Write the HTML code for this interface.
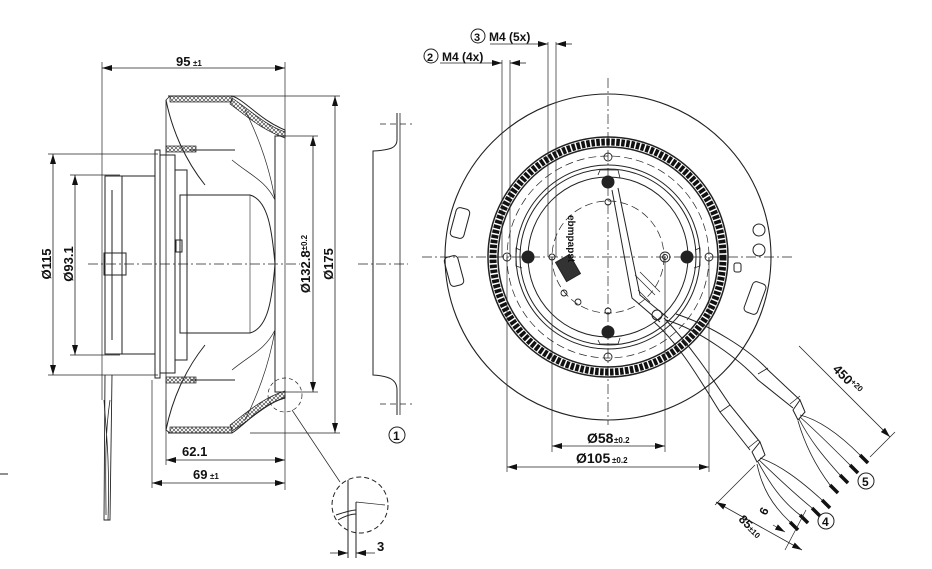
<!DOCTYPE html>
<html><head><meta charset="utf-8"><style>
html,body{margin:0;padding:0;background:#fff;}
svg{display:block;}
text{font-family:"Liberation Sans",sans-serif;font-weight:bold;fill:#111;}
</style></head><body>
<svg width="932" height="569" viewBox="0 0 932 569" xmlns="http://www.w3.org/2000/svg">
<defs>
<marker id="a" viewBox="0 0 10 6" refX="10" refY="3" markerWidth="10" markerHeight="6" orient="auto-start-reverse" markerUnits="userSpaceOnUse"><path d="M0,0L10,3L0,6z" fill="#111"/></marker>
<pattern id="h" width="4" height="4" patternUnits="userSpaceOnUse"><path d="M0,0L4,4M4,0L0,4" stroke="#333" stroke-width="0.6"/></pattern>
</defs>
<g fill="none" stroke="#222" stroke-width="1">
<line x1="88" y1="264" x2="300" y2="264" stroke-dasharray="10,3,2,3" stroke-width="0.7"/>
<line x1="102" y1="62" x2="102" y2="400" stroke-width="0.7"/>
<line x1="285" y1="62" x2="285" y2="490" stroke-width="0.7"/>
<line x1="102" y1="68" x2="285" y2="68" marker-start="url(#a)" marker-end="url(#a)" stroke-width="0.8"/>
<line x1="232" y1="96" x2="340" y2="96" stroke-width="0.7"/>
<line x1="250" y1="433" x2="340" y2="433" stroke-width="0.7"/>
<line x1="335" y1="96" x2="335" y2="433" marker-start="url(#a)" marker-end="url(#a)" stroke-width="0.8"/>
<line x1="285" y1="136" x2="318" y2="136" stroke-width="0.7"/>
<line x1="285" y1="392" x2="318" y2="392" stroke-width="0.7"/>
<line x1="313" y1="136" x2="313" y2="392" marker-start="url(#a)" marker-end="url(#a)" stroke-width="0.8"/>
<line x1="48" y1="154" x2="158" y2="154" stroke-width="0.7"/>
<line x1="48" y1="375" x2="158" y2="375" stroke-width="0.7"/>
<line x1="53" y1="154" x2="53" y2="375" marker-start="url(#a)" marker-end="url(#a)" stroke-width="0.8"/>
<line x1="70" y1="175" x2="120" y2="175" stroke-width="0.7"/>
<line x1="70" y1="355" x2="120" y2="355" stroke-width="0.7"/>
<line x1="75" y1="175" x2="75" y2="355" marker-start="url(#a)" marker-end="url(#a)" stroke-width="0.8"/>
<line x1="166" y1="400" x2="166" y2="465" stroke-width="0.7"/>
<line x1="152" y1="380" x2="152" y2="488" stroke-width="0.7"/>
<line x1="166" y1="460" x2="285" y2="460" marker-start="url(#a)" marker-end="url(#a)" stroke-width="0.8"/>
<line x1="152" y1="483" x2="285" y2="483" marker-start="url(#a)" marker-end="url(#a)" stroke-width="0.8"/>
<line x1="0" y1="474" x2="8" y2="474"/>
<rect x="105" y="176" width="50" height="178"/>
<line x1="122" y1="176" x2="122" y2="354"/>
<line x1="112" y1="190" x2="112" y2="340"/>
<rect x="104" y="253" width="22" height="22"/>
<rect x="155" y="150" width="5" height="228"/>
<rect x="160" y="155" width="15" height="218"/>
<rect x="175" y="170" width="12" height="190"/>
<path d="M105,375 L104,520 L110,520 L112,375" stroke-width="0.9"/>
<path d="M104,400 C106,430 110,460 108,520 M110,400 C104,440 106,480 106,515" stroke-width="0.8"/>
<path d="M168,96 L232,96 C245,100 260,120 285,130 L285,136 L275,136 L275,392 L285,392 L285,398 C260,405 245,425 232,433 L168,433"/>
<rect x="170" y="96" width="62" height="6" fill="url(#h)" stroke-width="0.7"/>
<rect x="170" y="427" width="62" height="6" fill="url(#h)" stroke-width="0.7"/>
<path d="M232,98 C250,110 265,125 285,132 L285,138 C262,130 245,115 230,104z" fill="url(#h)" stroke-width="0.7"/>
<path d="M232,431 C250,420 265,405 285,397 L285,391 C262,398 245,414 230,425z" fill="url(#h)" stroke-width="0.7"/>
<path d="M166,100 C172,130 185,160 205,185 M166,430 C172,400 185,370 205,345"/>
<path d="M170,96 L166,100 L166,430 L170,433" stroke-width="0.8"/>
<rect x="166" y="146" width="30" height="6" fill="url(#h)" stroke-width="0.7"/>
<rect x="166" y="377" width="30" height="6" fill="url(#h)" stroke-width="0.7"/>
<path d="M190,150 L235,150 M190,380 L235,380"/>
<path d="M180,195 L250,195 C268,200 272,230 275,264 C272,300 268,328 250,333 L180,333 Z"/>
<line x1="250" y1="195" x2="250" y2="333" stroke-width="0.6"/>
<rect x="176" y="240" width="6" height="12"/>
<path d="M245,110 C260,140 270,170 275,200 M245,420 C260,390 270,360 275,330 M232,160 C250,175 265,180 275,200 M232,370 C250,355 265,350 275,330" stroke-width="0.7"/>
<circle cx="285" cy="395" r="17" stroke-dasharray="4,3" stroke-width="0.7"/>
<line x1="292" y1="410" x2="340" y2="482" stroke-width="0.7"/>
<circle cx="360" cy="505" r="28" stroke-dasharray="5,3"/>
<line x1="348" y1="480" x2="348" y2="558"/>
<line x1="356" y1="502" x2="356" y2="558"/>
<path d="M336,515 C345,512 352,510 356,510 M338,520 C345,516 352,514 356,514" />
<path d="M356,502 L385,505" stroke-width="0.7"/>
<line x1="330" y1="553" x2="348" y2="553" marker-end="url(#a)" stroke-width="0.8"/>
<line x1="375" y1="553" x2="356" y2="553" marker-end="url(#a)" stroke-width="0.8"/>
<path d="M397,113 L397,140 C397,148 390,150 373,151 L373,375 C390,376 397,380 397,390 L397,415"/>
<path d="M400,113 L400,415" stroke-width="0.8"/>
<line x1="380" y1="124" x2="412" y2="124" stroke-dasharray="6,4" stroke-width="0.7"/>
<line x1="380" y1="404" x2="412" y2="404" stroke-dasharray="6,4" stroke-width="0.7"/>
<line x1="358" y1="264" x2="408" y2="264" stroke-dasharray="10,3,2,3" stroke-width="0.7"/>
<circle cx="397" cy="435" r="8"/>

<line x1="422" y1="257" x2="795" y2="257" stroke-dasharray="10,3,2,3" stroke-width="0.7"/>
<line x1="608" y1="78" x2="608" y2="425" stroke-dasharray="10,3,2,3" stroke-width="0.7"/>
<circle cx="608" cy="257" r="163" stroke-width="1.1"/>
<circle cx="608" cy="257" r="120" stroke-width="1.5"/>
<circle cx="608" cy="257" r="115" stroke="#111" stroke-width="7" stroke-dasharray="3.5,1.5"/>
<circle cx="608" cy="257" r="110" stroke-width="1.5"/>
<circle cx="608" cy="257" r="101" stroke-dasharray="8,4" stroke-width="0.7"/>
<circle cx="608" cy="257" r="92"/>
<circle cx="608" cy="257" r="88"/>
<circle cx="608" cy="257" r="80"/>
<circle cx="608" cy="257" r="56" stroke-dasharray="8,4" stroke-width="0.7"/>
<g stroke-width="0.9">
<circle cx="608" cy="157" r="4"/><circle cx="608" cy="357" r="4"/>
<circle cx="507" cy="257" r="4"/><circle cx="709" cy="257" r="4"/>
<circle cx="552" cy="257" r="3"/><circle cx="608" cy="202" r="3"/><circle cx="608" cy="311" r="3"/>
<circle cx="665" cy="257" r="5"/><circle cx="665" cy="257" r="2.5"/>
<circle cx="564" cy="293" r="3"/><circle cx="578" cy="302" r="3"/>
</g>
<g fill="#222">
<circle cx="608" cy="182" r="6"/><circle cx="608" cy="332" r="6"/>
<circle cx="528" cy="257" r="6"/><circle cx="687" cy="257" r="6"/>
</g>
<path d="M598,175 L600,170 L618,170 L620,178 M598,340 L600,344 L618,344 L620,338 M520,250 L516,248 L516,266 L522,268 M695,250 L700,248 L700,266 L694,268" stroke-width="0.8"/>
<circle cx="759" cy="230" r="6"/><circle cx="759" cy="250" r="6"/>
<rect x="734" y="263" width="7" height="9" rx="2"/>
<rect x="453" y="208" width="14" height="30" rx="4" transform="rotate(15 460 223)"/>
<rect x="447" y="256" width="14" height="30" rx="4" transform="rotate(-15 454 271)"/>
<rect x="748" y="282" width="14" height="32" rx="4" transform="rotate(20 755 298)"/>
<rect x="560" y="257" width="16" height="22" fill="#333" transform="rotate(-30 568 268)"/>
<path d="M612,190 L632,298 L660,322 M618,188 L640,295 L668,318" stroke-width="1"/>
<path d="M635,275 L655,295 M640,272 L660,292 M638,290 L650,302" stroke-width="0.7"/>
<circle cx="657" cy="315" r="5"/>
<line x1="502" y1="60" x2="502" y2="257" stroke-width="0.7"/>
<line x1="510" y1="60" x2="510" y2="257" stroke-width="0.7"/>
<line x1="440" y1="63" x2="502" y2="63" marker-end="url(#a)" stroke-width="0.8"/>
<line x1="526" y1="63" x2="510" y2="63" marker-end="url(#a)" stroke-width="0.8"/>
<line x1="548" y1="42" x2="548" y2="257" stroke-width="0.7"/>
<line x1="556" y1="42" x2="556" y2="257" stroke-width="0.7"/>
<line x1="490" y1="44" x2="548" y2="44" marker-end="url(#a)" stroke-width="0.8"/>
<line x1="572" y1="44" x2="556" y2="44" marker-end="url(#a)" stroke-width="0.8"/>
<circle cx="431" cy="56" r="7"/><circle cx="478" cy="36" r="7"/>
<line x1="552" y1="257" x2="552" y2="452" stroke-width="0.7"/>
<line x1="665" y1="257" x2="665" y2="452" stroke-width="0.7"/>
<line x1="507" y1="257" x2="507" y2="472" stroke-width="0.7"/>
<line x1="709" y1="257" x2="709" y2="472" stroke-width="0.7"/>
<line x1="552" y1="446" x2="665" y2="446" marker-start="url(#a)" marker-end="url(#a)" stroke-width="0.8"/>
<line x1="507" y1="467" x2="709" y2="467" marker-start="url(#a)" marker-end="url(#a)" stroke-width="0.8"/>
<path d="M666,320 C700,330 740,360 758,380 L793,408" />
<path d="M676,314 C710,325 750,350 768,370 L800,400"/>
<path d="M654,322 C680,345 700,380 720,412 L750,450"/>
<path d="M664,318 C690,345 710,375 730,405 L760,442"/>
<path d="M758,374 L768,368 M790,404 L800,396 M720,412 L730,405 M748,448 L758,440" stroke-width="0.8"/>
<path d="M793,410 L800,400 L805,412 L798,420 Z" fill="#fff"/>
<path d="M752,452 L760,442 L765,455 L757,462 Z" fill="#fff"/>
<g stroke-width="0.8">
<path d="M800,415 C820,420 840,435 860,455 M800,417 C815,430 830,445 850,465 M799,419 C810,440 822,455 840,475 M798,421 C805,445 815,465 830,485"/>
<path d="M760,458 C780,465 800,480 822,500 M759,460 C775,475 790,490 812,508 M758,462 C768,480 780,500 800,515 M757,464 C762,488 772,505 790,522"/>
</g>
<g stroke="#111" stroke-width="3.5">
<path d="M860,455 L868,463 M850,465 L858,473 M840,475 L848,483 M830,485 L838,493"/>
<path d="M822,500 L830,508 M812,508 L820,516 M800,515 L808,523 M790,522 L798,530"/>
</g>
<circle cx="866" cy="481" r="8"/>
<circle cx="826" cy="521" r="8"/>
<line x1="799" y1="346" x2="890" y2="437" marker-end="url(#a)" stroke-width="0.8"/>
<line x1="870" y1="457" x2="895" y2="432" stroke-width="0.7"/>
<line x1="755" y1="465" x2="715" y2="505" stroke-width="0.7"/>
<line x1="716" y1="502" x2="802" y2="550" marker-start="url(#a)" marker-end="url(#a)" stroke-width="0.8"/>
<line x1="806" y1="510" x2="785" y2="550" stroke-width="0.7"/>
<line x1="773" y1="525" x2="785" y2="532" marker-end="url(#a)" stroke-width="0.7"/>
</g>
<g>
<text x="176" y="66" font-size="13">95</text><text x="193" y="66" font-size="8">±1</text>
<text x="182" y="456" font-size="13">62.1</text>
<text x="193" y="479" font-size="13">69</text><text x="210" y="479" font-size="8">±1</text>
<text transform="translate(51,264) rotate(-90)" text-anchor="middle" font-size="13">Ø115</text>
<text transform="translate(73,264) rotate(-90)" text-anchor="middle" font-size="13">Ø93.1</text>
<text transform="translate(310,264) rotate(-90)" text-anchor="middle" font-size="13">Ø132.8<tspan font-size="8" dy="-3">±0.2</tspan></text>
<text transform="translate(333,264) rotate(-90)" text-anchor="middle" font-size="13">Ø175</text>
<text x="393" y="440" font-size="12" font-weight="normal">1</text>
<text x="377" y="551" font-size="13">3</text>
<text x="427" y="61" font-size="11" font-weight="normal">2</text>
<text x="442" y="61" font-size="12">M4 (4x)</text>
<text x="474" y="41" font-size="11" font-weight="normal">3</text>
<text x="489" y="41" font-size="12">M4 (5x)</text>
<text x="587" y="443" font-size="14">Ø58</text><text x="614" y="443" font-size="8">±0.2</text>
<text x="576" y="463" font-size="14">Ø105</text><text x="612" y="463" font-size="8">±0.2</text>
<text x="862" y="486" font-size="12" font-weight="normal">5</text>
<text x="822" y="526" font-size="12" font-weight="normal">4</text>
<text transform="translate(832,370) rotate(45)" font-size="13">450<tspan font-size="8" dy="-4">+20</tspan></text>
<text transform="translate(766,516) rotate(-62)" font-size="12">6</text>
<text transform="translate(738,520) rotate(45)" font-size="12">85<tspan font-size="8">±10</tspan></text>
<text transform="translate(568,215) rotate(90)" font-size="10" font-weight="normal">ebmpapst</text>
</g>
</svg>
</body></html>
